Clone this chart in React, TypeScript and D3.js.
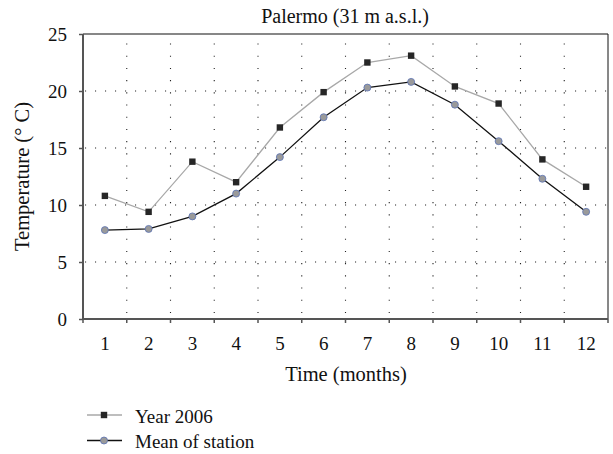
import * as React from 'react';
import * as d3 from 'd3';

const months = [1, 2, 3, 4, 5, 6, 7, 8, 9, 10, 11, 12];
const year2006 = [10.8, 9.4, 13.8, 12.0, 16.8, 19.9, 22.5, 23.1, 20.4, 18.9, 14.0, 11.6];
const meanStation = [7.8, 7.9, 9.0, 11.0, 14.2, 17.7, 20.3, 20.8, 18.8, 15.6, 12.3, 9.4];
const yTicks = [0, 5, 10, 15, 20, 25];
const seriesNames = ['Year 2006', 'Mean of station'];

const font = '"Liberation Serif", "DejaVu Serif", serif';

export default function App() {
  const svgRef = React.useRef() as React.MutableRefObject<any>;

  const width = 613;
  const height = 454;
  const margin = { top: 34, right: 5, bottom: 135, left: 83 };
  const innerW = width - margin.left - margin.right;
  const innerH = height - margin.top - margin.bottom;

  React.useEffect(() => {
    const svg = d3.select(svgRef.current);
    svg.selectAll('*').remove();

    const x = d3.scaleBand<number>().domain(months).range([0, innerW]).padding(0);
    const y = d3.scaleLinear().domain([0, 25]).range([innerH, 0]);
    const cx = (m: number) => (x(m) as number) + x.bandwidth() / 2;

    const g = svg.append('g').attr('transform', `translate(${margin.left},${margin.top})`);

    // dotted grid
    yTicks.filter((t) => t > 0 && t < 25).forEach((t) => {
      g.append('line')
        .attr('x1', 2).attr('x2', innerW)
        .attr('y1', y(t)).attr('y2', y(t))
        .attr('stroke', '#222').attr('stroke-width', 1.1)
        .attr('stroke-dasharray', '1.1 8.9');
    });
    months.slice(1).forEach((m) => {
      g.append('line')
        .attr('x1', x(m) as number).attr('x2', x(m) as number)
        .attr('y1', innerH).attr('y2', 0)
        .attr('stroke', '#222').attr('stroke-width', 1.1)
        .attr('stroke-dasharray', '1.1 11.1')
        .attr('stroke-dashoffset', -6);
    });

    // frame top/right
    g.append('line').attr('x1', 0).attr('x2', innerW).attr('y1', 0).attr('y2', 0)
      .attr('stroke', '#111').attr('stroke-width', 1.2);
    g.append('line').attr('x1', innerW).attr('x2', innerW).attr('y1', 0).attr('y2', innerH)
      .attr('stroke', '#111').attr('stroke-width', 1);

    // axes
    const yAxis = g.append('g')
      .call(d3.axisLeft(y).tickValues(yTicks).tickSize(4).tickPadding(12));
    const xAxis = g.append('g')
      .attr('transform', `translate(0,${innerH})`)
      .call(d3.axisBottom(x).tickSize(0).tickPadding(18));
    [yAxis, xAxis].forEach((ax) => {
      ax.attr('font-family', font).attr('font-size', 19);
      ax.select('.domain').attr('stroke', '#555').attr('stroke-width', 2);
      ax.selectAll('.tick line').attr('stroke', '#555').attr('stroke-width', 1.5);
      ax.selectAll('.tick text').attr('fill', '#111');
    });
    xAxis.select('.domain').attr('d', `M0,0H${innerW}`);
    yAxis.select('.domain').attr('d', `M0,${innerH}V0`);
    // bottom ticks sit on the band edges
    x.domain().map((m) => x(m) as number).concat([innerW]).forEach((px) => {
      g.append('line')
        .attr('x1', px).attr('x2', px)
        .attr('y1', innerH).attr('y2', innerH + 4)
        .attr('stroke', '#555').attr('stroke-width', 1.5);
    });

    // lines
    const line = d3.line<number>()
      .x((_, i) => cx(months[i]))
      .y((v) => y(v));

    g.append('path').datum(year2006)
      .attr('d', line).attr('fill', 'none')
      .attr('stroke', '#a8a8a8').attr('stroke-width', 1.3);
    g.append('path').datum(meanStation)
      .attr('d', line).attr('fill', 'none')
      .attr('stroke', '#111').attr('stroke-width', 1.3);

    g.selectAll('rect.pt').data(year2006).enter().append('rect')
      .attr('x', (_, i) => cx(months[i]) - 3.2)
      .attr('y', (v) => y(v) - 3.2)
      .attr('width', 6.4).attr('height', 6.4)
      .attr('fill', '#262626');
    g.selectAll('circle.pt').data(meanStation).enter().append('circle')
      .attr('cx', (_, i) => cx(months[i]))
      .attr('cy', (v) => y(v))
      .attr('r', 3.5)
      .attr('fill', '#9a9a9a')
      .attr('stroke', '#5b72b5').attr('stroke-width', 0.8);

    // title and labels
    svg.append('text')
      .attr('x', 345).attr('y', 23)
      .attr('text-anchor', 'middle')
      .attr('font-family', font).attr('font-size', 20).attr('fill', '#111')
      .text('Palermo (31 m a.s.l.)');
    svg.append('text')
      .attr('x', 346).attr('y', 381)
      .attr('text-anchor', 'middle')
      .attr('font-family', font).attr('font-size', 20.5).attr('fill', '#111')
      .text('Time (months)');
    svg.append('text')
      .attr('transform', `translate(29,${margin.top + innerH / 2}) rotate(-90)`)
      .attr('text-anchor', 'middle')
      .attr('font-family', font).attr('font-size', 20.5).attr('fill', '#111')
      .text('Temperature (° C)');

    // legend
    const leg = svg.append('g').attr('transform', 'translate(87,415)');
    seriesNames.forEach((name, i) => {
      const row = leg.append('g').attr('transform', `translate(0,${i * 25.5})`);
      row.append('line').attr('x1', 0).attr('x2', 35).attr('y1', 0).attr('y2', 0)
        .attr('stroke', i === 0 ? '#a8a8a8' : '#111').attr('stroke-width', 1.3);
      if (i === 0) {
        row.append('rect').attr('x', 17 - 3.2).attr('y', -3.2)
          .attr('width', 6.4).attr('height', 6.4).attr('fill', '#262626');
      } else {
        row.append('circle').attr('cx', 17).attr('cy', 0).attr('r', 3.5)
          .attr('fill', '#9a9a9a').attr('stroke', '#5b72b5').attr('stroke-width', 0.8);
      }
      row.append('text').attr('x', 48).attr('y', 7.5)
        .attr('font-family', font).attr('font-size', 19).attr('fill', '#111')
        .text(name);
    });
  }, []);

  return (
    <svg ref={svgRef} width={width} height={height}
      style={{ position: 'absolute', left: 0, top: 0, background: '#fff' }} />
  );
}
